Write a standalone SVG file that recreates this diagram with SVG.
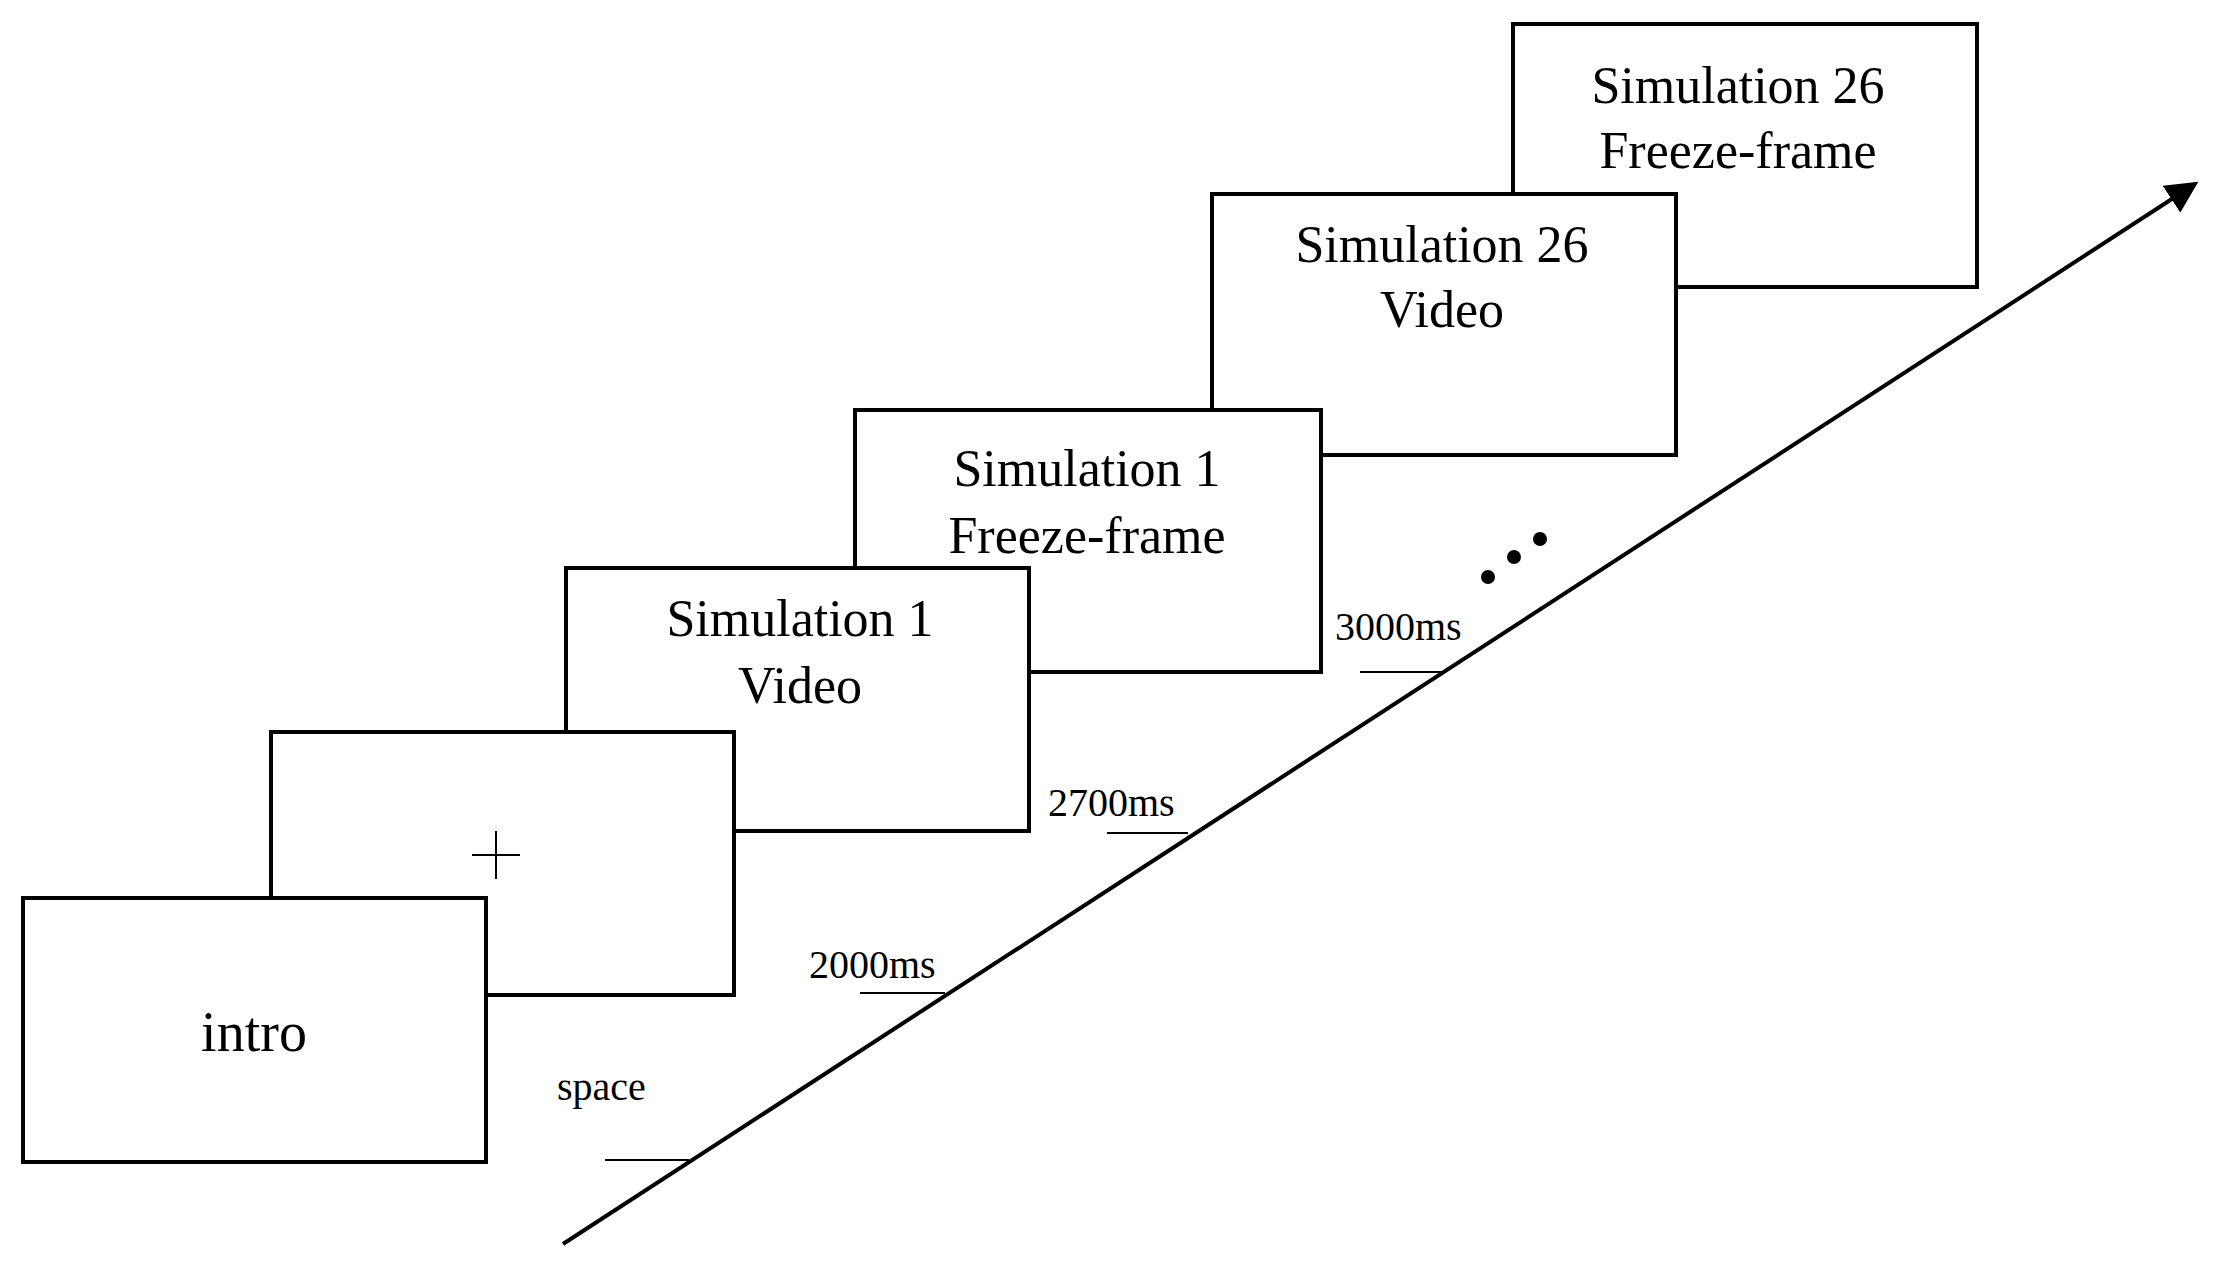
<svg xmlns="http://www.w3.org/2000/svg" width="2217" height="1269" viewBox="0 0 2217 1269">
<style>
.b{fill:#fff;stroke:#000;stroke-width:4}
.t{font-family:"Liberation Serif",serif;font-size:52px;text-anchor:middle;fill:#000}
.l{font-family:"Liberation Serif",serif;font-size:40px;fill:#000}
.k{stroke:#000;stroke-width:2}
</style>
<defs><marker id="a" markerWidth="8" markerHeight="8" refX="7" refY="4" orient="auto" markerUnits="strokeWidth"><path d="M0,0 L8,4 L0,8 z" fill="#000"/></marker></defs>
<g id="sim26f"><rect class="b" x="1513" y="24" width="464" height="263"/><text class="t" x="1738" y="103">Simulation 26</text><text class="t" x="1738" y="168">Freeze-frame</text></g>
<g id="sim26v"><rect class="b" x="1212" y="194" width="464" height="261"/><text class="t" x="1442" y="262">Simulation 26</text><text class="t" x="1442" y="327">Video</text></g>
<g id="sim1f"><rect class="b" x="855" y="410" width="466" height="262"/><text class="t" x="1087" y="486">Simulation 1</text><text class="t" x="1087" y="553">Freeze-frame</text></g>
<g id="sim1v"><rect class="b" x="566" y="568" width="463" height="263"/><text class="t" x="800" y="636">Simulation 1</text><text class="t" x="800" y="703">Video</text></g>
<g id="fix"><rect class="b" x="271" y="732" width="463" height="263"/><path class="k" d="M472,855 H520 M496,831 V879"/></g>
<g id="intro"><rect class="b" x="23" y="898" width="463" height="264"/><text class="t" x="254" y="1051" style="font-size:56px">intro</text></g>
<g id="connectors">
<line x1="563" y1="1244" x2="2195" y2="184" stroke="#000" stroke-width="4" marker-end="url(#a)"/>
<path class="k" d="M605,1160H689 M860,993H945 M1107,833H1188 M1360,672H1442"/>
</g>
<g id="labels">
<text class="l" x="557" y="1100">space</text>
<text class="l" x="809" y="978">2000ms</text>
<text class="l" x="1048" y="816">2700ms</text>
<text class="l" x="1335" y="640">3000ms</text>
<circle cx="1488" cy="577" r="7"/><circle cx="1514" cy="557" r="7"/><circle cx="1540" cy="539" r="7"/>
</g>
</svg>
